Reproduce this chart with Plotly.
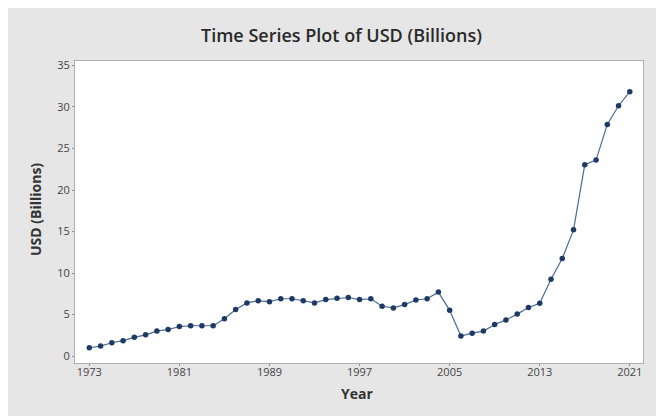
import plotly.graph_objects as go

years = list(range(1973, 2022))
usd_billions = [
    1.0, 1.2, 1.6, 1.85, 2.25, 2.55, 3.0, 3.2, 3.55, 3.65,
    3.65, 3.65, 4.5, 5.6, 6.4, 6.65, 6.55, 6.9, 6.9, 6.65,
    6.4, 6.8, 6.95, 7.05, 6.8, 6.9, 6.0, 5.8, 6.2, 6.75,
    6.9, 7.7, 5.5, 2.4, 2.75, 3.0, 3.8, 4.35, 5.05, 5.85,
    6.35, 9.25, 11.75, 15.2, 23.05, 23.6, 27.9, 30.15, 31.85,
]
x_ticks = [1973, 1981, 1989, 1997, 2005, 2013, 2021]
y_ticks = [0, 5, 10, 15, 20, 25, 30, 35]

# the page has an 8px body margin, so the figure itself is 656x408
W, H = 656, 408
L, R, T, B = 67, 635, 53, 355
pw, ph = R - L, B - T

def px(x):
    return (x - L) / pw

def py(y):
    return (B - y) / ph

fig = go.Figure()
fig.add_trace(go.Scatter(
    x=years, y=usd_billions, mode="lines+markers",
    line=dict(color="#4a6a95", width=1.2),
    marker=dict(color="#1d3a66", size=5.5, symbol="circle"),
    hoverinfo="x+y", showlegend=False,
))

fig.add_annotation(text="Time Series Plot of USD (Billions)", xref="paper", yref="paper",
                   x=px(333), y=py(27), xanchor="center", yanchor="middle", showarrow=False,
                   font=dict(family="Open Sans", size=18, weight=600, color="#2a2a2a"))
fig.add_annotation(text="<b>Year</b>", xref="paper", yref="paper",
                   x=px(349), y=py(385), xanchor="center", yanchor="middle", showarrow=False,
                   font=dict(family="Open Sans", size=14, color="#333333"))
fig.add_annotation(text="<b>USD (Billions)</b>", xref="paper", yref="paper",
                   x=px(27), y=py(202), xanchor="center", yanchor="middle", showarrow=False,
                   textangle=-90,
                   font=dict(family="Open Sans", size=14, color="#333333"))

fig.update_layout(
    width=W, height=H,
    margin=dict(l=L, r=W - R, t=T, b=H - B),
    paper_bgcolor="#e6e6e6", plot_bgcolor="white",
    font=dict(family="Open Sans", size=11, color="#444444"),
    xaxis=dict(range=[1971.73, 2022.17], tickvals=x_ticks, ticktext=[str(v) for v in x_ticks],
               showgrid=False, zeroline=False, showline=True, linecolor="#b0b0b0", linewidth=1,
               mirror=True, ticks="outside", ticklen=2, tickcolor="#909090",
               ticklabelstandoff=-3),
    yaxis=dict(range=[-0.84, 35.54], tickvals=y_ticks,
               showgrid=False, zeroline=False, showline=True, linecolor="#b0b0b0", linewidth=1,
               mirror=True, ticks="outside", ticklen=2, tickcolor="#909090"),
)

fig.write_html("out.html")
